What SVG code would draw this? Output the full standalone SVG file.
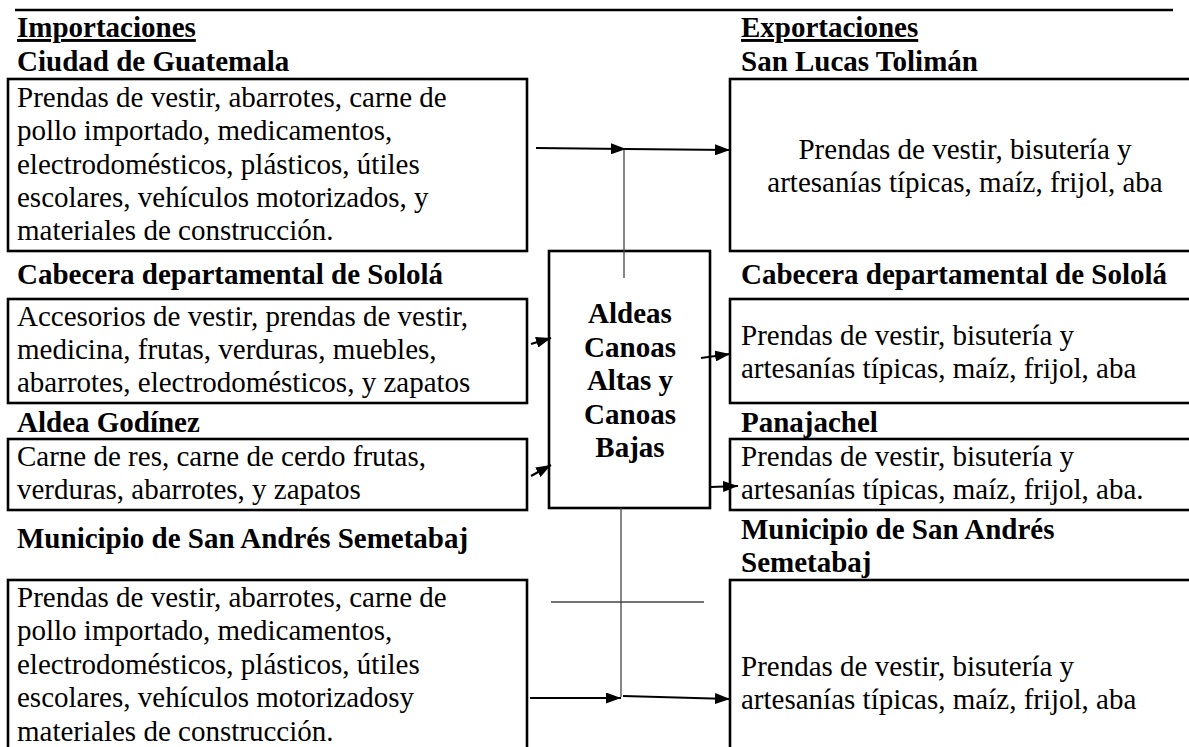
<svg xmlns="http://www.w3.org/2000/svg" width="1189" height="747" viewBox="0 0 1189 747">
<style>
text{font-family:"Liberation Serif","Times New Roman",serif;font-size:29px;fill:#000}
.b{font-weight:bold}
.u{text-decoration:underline}
.box{fill:#fff;stroke:#000;stroke-width:2.6}
.arr{fill:none;stroke:#000;stroke-width:2.2}
.thin{fill:none;stroke:#444;stroke-width:1.3}
.c{text-anchor:middle}
</style>
<defs>
<marker id="ah" viewBox="0 0 15 11" refX="15" refY="5.5" markerWidth="15" markerHeight="11" markerUnits="userSpaceOnUse" orient="auto">
<path d="M0,0 L15,5.5 L0,11 Z" fill="#000"/>
</marker>
</defs>
<rect width="1189" height="747" fill="#fff"/>
<line x1="15" y1="10" x2="1173" y2="10" stroke="#000" stroke-width="2.5"/>
<g id="titles">
<text x="17" y="37" class="b u">Importaciones</text>
<text x="741" y="37" class="b u">Exportaciones</text>
</g>
<g id="imp-guatemala">
<text x="17" y="71" class="b">Ciudad de Guatemala</text>
<rect class="box" x="8" y="79" width="519" height="172"/>
<text x="17" y="107">Prendas de vestir, abarrotes, carne de</text>
<text x="17" y="140">pollo importado, medicamentos,</text>
<text x="17" y="174">electrodomésticos, plásticos, útiles</text>
<text x="17" y="207">escolares, vehículos motorizados, y</text>
<text x="17" y="240">materiales de construcción.</text>
</g>
<g id="imp-solola">
<text x="17" y="284" class="b">Cabecera departamental de Sololá</text>
<rect class="box" x="8" y="299" width="519" height="104"/>
<text x="17" y="326">Accesorios de vestir, prendas de vestir,</text>
<text x="17" y="359">medicina, frutas, verduras, muebles,</text>
<text x="17" y="392">abarrotes, electrodomésticos, y zapatos</text>
</g>
<g id="imp-godinez">
<text x="17" y="432" class="b">Aldea Godínez</text>
<rect class="box" x="8" y="439" width="519" height="71"/>
<text x="17" y="466">Carne de res, carne de cerdo frutas,</text>
<text x="17" y="499">verduras, abarrotes, y zapatos</text>
</g>
<g id="imp-semetabaj">
<text x="17" y="548" class="b">Municipio de San Andrés Semetabaj</text>
<rect class="box" x="8" y="580" width="519" height="180"/>
<text x="17" y="607">Prendas de vestir, abarrotes, carne de</text>
<text x="17" y="640">pollo importado, medicamentos,</text>
<text x="17" y="674">electrodomésticos, plásticos, útiles</text>
<text x="17" y="707">escolares, vehículos motorizadosy</text>
<text x="17" y="741">materiales de construcción.</text>
</g>
<g id="aldeas">
<rect class="box" x="549" y="251" width="161" height="257"/>
<text x="630" y="323" class="b c">Aldeas</text>
<text x="630" y="357" class="b c">Canoas</text>
<text x="630" y="390" class="b c">Altas y</text>
<text x="630" y="424" class="b c">Canoas</text>
<text x="630" y="457" class="b c">Bajas</text>
</g>
<g id="exp-sanlucas">
<text x="741" y="71" class="b">San Lucas Tolimán</text>
<rect class="box" x="730" y="79" width="480" height="172"/>
<text x="965" y="159" class="c">Prendas de vestir, bisutería y</text>
<text x="965" y="192" class="c">artesanías típicas, maíz, frijol, aba</text>
</g>
<g id="exp-solola">
<text x="741" y="284" class="b">Cabecera departamental de Sololá</text>
<rect class="box" x="730" y="299" width="480" height="104"/>
<text x="741" y="345">Prendas de vestir, bisutería y</text>
<text x="741" y="378">artesanías típicas, maíz, frijol, aba</text>
</g>
<g id="exp-panajachel">
<text x="741" y="432" class="b">Panajachel</text>
<rect class="box" x="730" y="439" width="480" height="71"/>
<text x="741" y="466">Prendas de vestir, bisutería y</text>
<text x="741" y="499">artesanías típicas, maíz, frijol, aba.</text>
</g>
<g id="exp-semetabaj">
<text x="741" y="539" class="b">Municipio de San Andrés</text>
<text x="741" y="572" class="b">Semetabaj</text>
<rect class="box" x="730" y="580" width="480" height="200"/>
<text x="741" y="676">Prendas de vestir, bisutería y</text>
<text x="741" y="709">artesanías típicas, maíz, frijol, aba</text>
</g>
<g id="connectors">
<path class="arr" d="M536,148 L626,149" marker-end="url(#ah)"/>
<path class="arr" d="M626,149 L730,150" marker-end="url(#ah)"/>
<path class="thin" d="M624,150 L624,278"/>
<path class="arr" d="M531,344 L551,338" marker-end="url(#ah)"/>
<path class="arr" d="M531,476 L551,465" marker-end="url(#ah)"/>
<path class="arr" d="M701,358 L730,354" marker-end="url(#ah)"/>
<path class="arr" d="M711,487 L738,486" marker-end="url(#ah)"/>
<path class="thin" d="M621,508 L621,697"/>
<path class="thin" d="M551,602 L704,602"/>
<path class="arr" d="M530,698 L621,698" marker-end="url(#ah)"/>
<path class="arr" d="M623,696 L730,699" marker-end="url(#ah)"/>
</g>
</svg>
